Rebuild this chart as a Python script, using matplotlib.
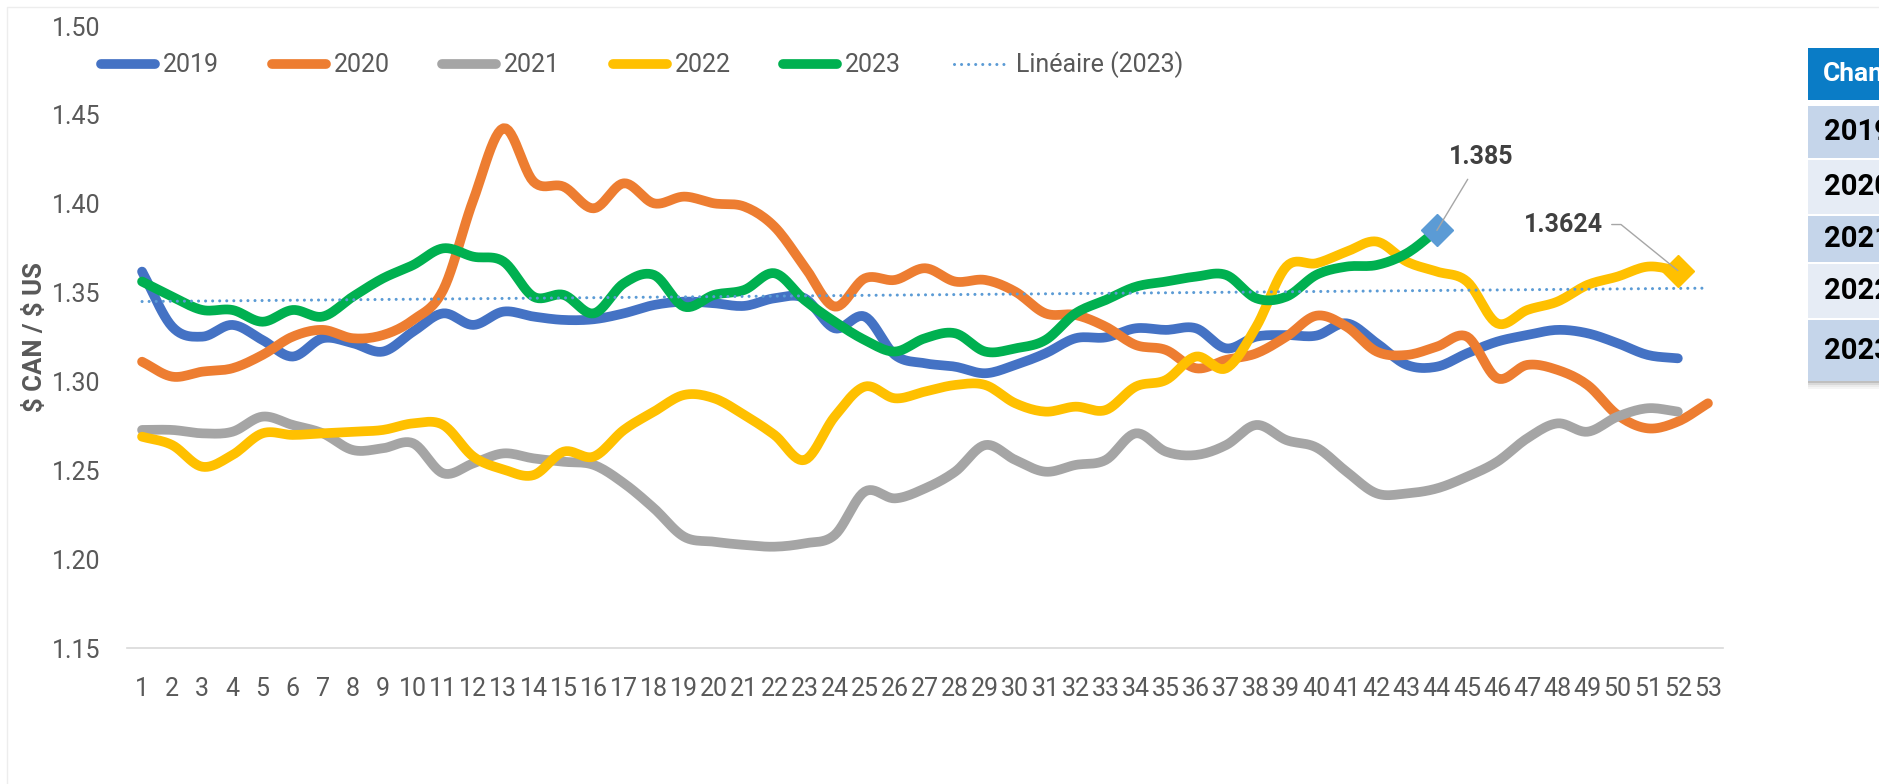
import numpy as np
import matplotlib.pyplot as plt
from matplotlib.patches import Rectangle

plt.rcParams['font.family'] = ['Roboto', 'DejaVu Sans']

weeks = np.arange(1, 54)

y2019 = [1.3618, 1.3308, 1.3252, 1.3318, 1.3233, 1.3140, 1.3243, 1.3215, 1.3168, 1.3280,
         1.3383, 1.3318, 1.3393, 1.3365, 1.3346, 1.3350, 1.3383, 1.3430, 1.3449, 1.3440,
         1.3425, 1.3468, 1.3468, 1.3299, 1.3365, 1.3149, 1.3102, 1.3083, 1.3046, 1.3093,
         1.3158, 1.3243, 1.3248, 1.3299, 1.3290, 1.3299, 1.3186, 1.3252, 1.3261, 1.3258,
         1.3327, 1.3215, 1.3093, 1.3083, 1.3158, 1.3224, 1.3261, 1.3290, 1.3271, 1.3215,
         1.3149, 1.3130]
y2020 = [1.3111, 1.3027, 1.3055, 1.3074, 1.3149, 1.3252, 1.3290, 1.3243, 1.3261, 1.3346,
         1.3515, 1.4021, 1.4425, 1.4124, 1.4096, 1.3974, 1.4115, 1.4002, 1.4040, 1.4002,
         1.3984, 1.3871, 1.3646, 1.3421, 1.3580, 1.3571, 1.3637, 1.3562, 1.3571, 1.3505,
         1.3383, 1.3374, 1.3308, 1.3205, 1.3177, 1.3074, 1.3121, 1.3158, 1.3252, 1.3370,
         1.3308, 1.3168, 1.3149, 1.3196, 1.3252, 1.3018, 1.3093, 1.3065, 1.2980, 1.2811,
         1.2736, 1.2774, 1.2877]
y2021 = [1.2727, 1.2727, 1.2708, 1.2717, 1.2802, 1.2755, 1.2708, 1.2614, 1.2624, 1.2652,
         1.2483, 1.2539, 1.2595, 1.2567, 1.2548, 1.2530, 1.2427, 1.2286, 1.2126, 1.2098,
         1.2080, 1.2070, 1.2089, 1.2136, 1.2380, 1.2342, 1.2398, 1.2492, 1.2642, 1.2558,
         1.2492, 1.2530, 1.2558, 1.2708, 1.2605, 1.2586, 1.2642, 1.2755, 1.2670, 1.2628,
         1.2492, 1.2370, 1.2370, 1.2398, 1.2464, 1.2548, 1.2680, 1.2764, 1.2717, 1.2802,
         1.2849, 1.2830]
y2022 = [1.2689, 1.2642, 1.2520, 1.2586, 1.2708, 1.2699, 1.2708, 1.2717, 1.2727, 1.2764,
         1.2755, 1.2577, 1.2505, 1.2473, 1.2605, 1.2577, 1.2727, 1.2830, 1.2924, 1.2905,
         1.2811, 1.2699, 1.2558, 1.2802, 1.2971, 1.2905, 1.2943, 1.2980, 1.2980, 1.2877,
         1.2830, 1.2858, 1.2839, 1.2971, 1.3008, 1.3140, 1.3074, 1.3308, 1.3646, 1.3665,
         1.3730, 1.3787, 1.3674, 1.3618, 1.3562, 1.3327, 1.3402, 1.3449, 1.3543, 1.3590,
         1.3646, 1.3624]
y2023 = [1.3562, 1.3477, 1.3402, 1.3402, 1.3336, 1.3402, 1.3365, 1.3477, 1.3580, 1.3655,
         1.3749, 1.3702, 1.3675, 1.3477, 1.3487, 1.3383, 1.3552, 1.3599, 1.3421, 1.3487,
         1.3515, 1.3609, 1.3458, 1.3336, 1.3233, 1.3168, 1.3243, 1.3271, 1.3168, 1.3186,
         1.3233, 1.3383, 1.3458, 1.3533, 1.3562, 1.3590, 1.3599, 1.3468, 1.3477, 1.3600,
         1.3646, 1.3655, 1.3721, 1.3850]

series = [("2019", y2019, "#4472C4"), ("2020", y2020, "#ED7D31"), ("2021", y2021, "#A5A5A5"),
          ("2022", y2022, "#FFC000"), ("2023", y2023, "#00B050")]

table_header = "Change"
table_rows = ["2019", "2020", "2021", "2022", "2023"]

TXT = "#595959"
W, H = 1879, 784


def smooth(x, y, n=12):
    # catmull-rom, close to Excel's "smoothed line"
    x = np.asarray(x, float)
    y = np.asarray(y, float)
    px = np.concatenate([[2 * x[0] - x[1]], x, [2 * x[-1] - x[-2]]])
    py = np.concatenate([[2 * y[0] - y[1]], y, [2 * y[-1] - y[-2]]])
    t = np.linspace(0, 1, n, endpoint=False)
    xs, ys = [], []
    for i in range(1, len(px) - 2):
        for p, out in ((px, xs), (py, ys)):
            p0, p1, p2, p3 = p[i - 1], p[i], p[i + 1], p[i + 2]
            out.extend(0.5 * (2 * p1 + (-p0 + p2) * t + (2 * p0 - 5 * p1 + 4 * p2 - p3) * t ** 2
                              + (-p0 + 3 * p1 - 3 * p2 + p3) * t ** 3))
    xs.append(x[-1])
    ys.append(y[-1])
    return xs, ys


fig = plt.figure(figsize=(W / 100, H / 100), dpi=100)
ax = fig.add_axes([127 / W, 1 - 648 / H, (1723 - 127) / W, (648 - 26) / H])

handles = []
for name, vals, col in series:
    sx, sy = smooth(weeks[:len(vals)], vals)
    ln, = ax.plot(sx, sy, color=col, lw=7, solid_capstyle='round', solid_joinstyle='round', label=name)
    handles.append(ln)

# linear trend of 2023
k, b = np.polyfit(weeks[:len(y2023)], y2023, 1)
tr, = ax.plot(weeks, k * weeks + b, color="#5B9BD5", lw=2.2, linestyle=(0, (0.01, 2.3)),
              dash_capstyle='round', label="Linéaire (2023)")
handles.append(tr)

# end markers + labels
ax.plot(weeks[len(y2023) - 1], y2023[-1], marker='D', ms=16, color="#5B9BD5", zorder=5)
ax.plot(weeks[len(y2022) - 1], y2022[-1], marker='D', ms=16, color="#FFC000", zorder=5)
ax.annotate(f"{y2023[-1]:.3f}", xy=(weeks[len(y2023) - 1], y2023[-1]), xytext=(44, 73),
            textcoords='offset pixels', ha='center', va='center', fontsize=18, fontweight='bold',
            color="#404040", zorder=6,
            arrowprops=dict(arrowstyle='-', color="#A6A6A6", lw=1, shrinkA=6, shrinkB=0))
ax.annotate(f"{y2022[-1]:.4f}", xy=(weeks[len(y2022) - 1], y2022[-1]), xytext=(-114, 46),
            textcoords='offset pixels', ha='center', va='center', fontsize=18, fontweight='bold',
            color="#404040", zorder=6,
            arrowprops=dict(arrowstyle='-', color="#A6A6A6", lw=1, shrinkA=4, shrinkB=0,
                            relpos=(1, 0.5), connectionstyle="angle,angleA=0,angleB=-39,rad=0"))

ax.set_xlim(0.5, 53.5)
ax.set_ylim(1.15, 1.50)
ax.set_yticks(np.arange(1.15, 1.501, 0.05))
ax.set_yticklabels([f"{v:.2f}" for v in np.arange(1.15, 1.501, 0.05)])
ax.set_xticks(weeks)
ax.set_xticklabels([str(w) for w in weeks])
ax.tick_params(axis='y', length=0, pad=19, labelsize=18, labelcolor=TXT)
ax.tick_params(axis='x', length=0, pad=21, labelsize=18, labelcolor=TXT)
for s in ['top', 'right', 'left']:
    ax.spines[s].set_visible(False)
ax.spines['bottom'].set_color("#D9D9D9")
ax.spines['bottom'].set_linewidth(1.2)
ax.set_ylabel(r"\$ CAN / \$ US", fontsize=18.5, fontweight='bold', color=TXT)
ax.yaxis.set_label_coords(-0.050, 0.5)

fig.legend(handles=handles, loc='center left', bbox_to_anchor=(101 / W, 1 - 65 / H), ncol=6,
           frameon=False, fontsize=18, labelcolor=TXT, handlelength=2.16, handletextpad=0.32,
           columnspacing=2.1, borderpad=0, borderaxespad=0)

# faint chart frame
fig.add_artist(Rectangle((7 / W, -0.1), 1.2, 1.1 - 7 / H, transform=fig.transFigure,
                         fill=False, edgecolor="#EDEDED", lw=1))

# side table (partly cut off at the right edge)
x0 = 1808
fig.add_artist(Rectangle((x0 / W, 1 - 100 / H), 0.1, 52 / H, transform=fig.transFigure,
                         facecolor="#0A7CC6", edgecolor='none'))
fig.text(1823 / W, 1 - 74 / H, table_header, color='white', fontsize=19, fontweight='bold', va='center')
row_spans = [(106, 158), (160, 214), (216, 262), (264, 318), (320, 381)]
for i, (lab, (t0, t1)) in enumerate(zip(table_rows, row_spans)):
    fc = "#C5D5EA" if i % 2 == 0 else "#E6ECF5"
    fig.add_artist(Rectangle((x0 / W, 1 - t1 / H), 0.1, (t1 - t0) / H, transform=fig.transFigure,
                             facecolor=fc, edgecolor='none'))
    fig.text(1824 / W, 1 - (t0 + t1) / 2 / H, lab, color='black', fontsize=21, fontweight='bold', va='center')
for j, a in enumerate([0.25, 0.15, 0.08, 0.04]):
    fig.add_artist(Rectangle((x0 / W, 1 - (383 + 2 * j) / H), 0.1, 2 / H, transform=fig.transFigure,
                             facecolor='black', alpha=a, edgecolor='none'))

fig.savefig("out.png", dpi=100)
